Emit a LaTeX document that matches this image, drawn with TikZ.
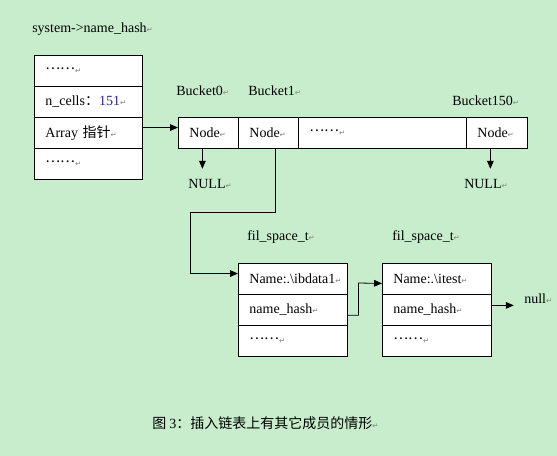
\documentclass[tikz,border=0pt]{standalone}
\usepackage{fontspec}
\setmainfont{Liberation Serif}
\newfontfamily\cjk{Noto Sans CJK SC}
\newfontfamily\dejavu{DejaVu Sans}
\usetikzlibrary{arrows.meta}
\definecolor{bg}{RGB}{199,237,204}
\definecolor{numblue}{RGB}{40,40,140}
\newcommand\rt{{\dejavu\fontsize{5.5}{5.5}\selectfont\textcolor{gray}{↵}}}
\newcommand\mydots{\raisebox{3pt}{\cjk ……}}
\begin{document}
\begin{tikzpicture}[x=0.75pt,y=-0.75pt,font=\fontsize{10.5}{12}\selectfont,
  cell/.style={draw,fill=white,line width=0.6pt,minimum height=23.25pt,
    inner xsep=8.25pt,inner ysep=0pt,text width=#1,align=left,anchor=north west},
  lbl/.style={anchor=base west,inner sep=0pt},
  conn/.style={line width=0.6pt},
  arr/.style={conn,-{Triangle[length=6pt,width=5pt]}}]
\fill[bg] (0,0) rectangle (557,456);
\useasboundingbox (0,0) rectangle (557,456);

% title
\node[lbl] (title) at (32,32.5) {system->name\_hash\rt};

% left box
\node[cell=64.5pt] (L1) at (34,55)  {\mydots\rt};
\node[cell=64.5pt] (L2) at (34,86)  {n\_cells{\cjk ：}\textcolor{numblue}{151}\rt};
\node[cell=64.5pt] (L3) at (34,117) {Array {\cjk 指针}\rt};
\node[cell=64.5pt] (L4) at (34,148) {\mydots\rt};

% bucket array
\node[cell=28.5pt]  (B0)   at (178,117) {Node\rt};
\node[cell=28.5pt]  (B1)   at (238,117) {Node\rt};
\node[cell=109.5pt] (Bd)   at (298,117) {\mydots\rt};
\node[cell=29.25pt] (B150) at (466,117) {Node\rt};

\node[lbl] (lb0)   at (176,96)  {Bucket0\rt};
\node[lbl] (lb1)   at (248,96)  {Bucket1\rt};
\node[lbl] (lb150) at (452,106) {Bucket150\rt};

\node[lbl] (n0)   at (188,189) {NULL\rt};
\node[lbl] (n150) at (464,189) {NULL\rt};

% fil_space_t boxes
\node[lbl] (f1) at (247,240) {fil\_space\_t\rt};
\node[lbl] (f2) at (392,240) {fil\_space\_t\rt};

\node[cell=65.25pt] (A1) at (238,263) {Name:.\textbackslash ibdata1\rt};
\node[cell=65.25pt] (A2) at (238,294) {name\_hash\rt};
\node[cell=65.25pt] (A3) at (238,325) {\mydots\rt};

\node[cell=65.25pt] (C1) at (382,263) {Name:.\textbackslash itest\rt};
\node[cell=65.25pt] (C2) at (382,294) {name\_hash\rt};
\node[cell=65.25pt] (C3) at (382,325) {\mydots\rt};

\node[lbl] (nl) at (524,303) {null\rt};

% caption
\node[lbl] (cap) at (152,428) {{\cjk 图 }3{\cjk ：插入链表上有其它成员的情形}\rt};

% connectors
\draw[arr] ([yshift=4pt]L3.east) -- ([yshift=4pt]B0.west);
\draw[arr] ([xshift=-4.5pt]B0.south) -- ++(0,20);
\draw[arr] ([xshift=-4.9pt]B150.south) -- ++(0,20);
\draw[arr] ([xshift=5.25pt]B1.south) |- (190,212) |- ([yshift=4pt]A1.west);
\draw[arr] ([yshift=-4pt]A2.east) -| (358.5,283) -- ([yshift=-3.4pt]C1.west);
\draw[arr] ([yshift=3.4pt]C2.east) -- ++(22,0);
\end{tikzpicture}
\end{document}
